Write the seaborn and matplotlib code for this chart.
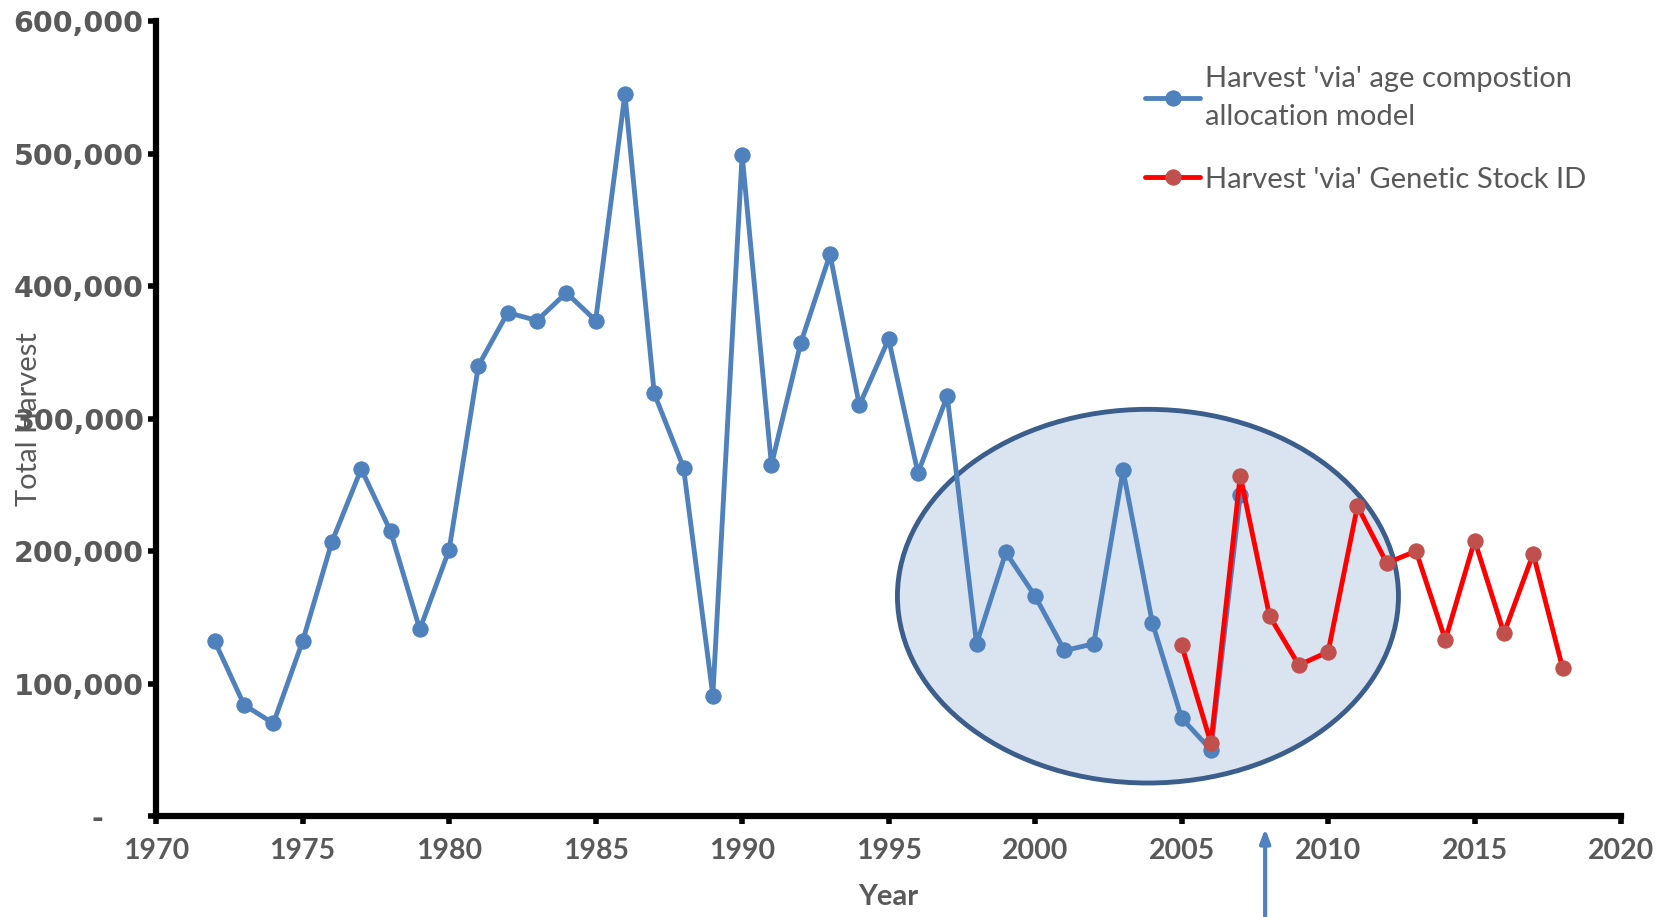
import matplotlib
matplotlib.use("Agg")
import matplotlib.pyplot as plt
from matplotlib.patches import Ellipse
from matplotlib.ticker import FuncFormatter
import pandas as pd
import seaborn as sb

# values
years_acm = list(range(1972, 2008))
harvest_acm = [132000, 84000, 70000, 132000, 207000, 262000, 215000, 141000, 201000, 340000,
               380000, 374000, 395000, 374000, 545000, 319000, 263000, 91000, 499000, 265000,
               357000, 424000, 310000, 360000, 259000, 317000, 130000, 199000, 166000, 125000,
               130000, 261000, 146000, 74000, 50000, 242000]

years_gsi = list(range(2005, 2019))
harvest_gsi = [129000, 55000, 257000, 151000, 114000, 124000, 234000, 191000, 200000, 133000,
               208000, 138000, 198000, 112000]

label_acm = "Harvest 'via' age compostion\nallocation model"
label_gsi = "Harvest 'via' Genetic Stock ID"

x_ticks = list(range(1970, 2021, 5))
y_ticks = list(range(0, 600001, 100000))

df_acm = pd.DataFrame({"Year": years_acm, "Harvest": harvest_acm})
df_gsi = pd.DataFrame({"Year": years_gsi, "Harvest": harvest_gsi})

sb.set_style("white")
plt.rcParams["xtick.bottom"] = True
plt.rcParams["ytick.left"] = True
grey = "#595959"

fig = plt.figure(figsize=(16.61, 9.17), dpi=100)
ax = fig.add_axes([0.094, 0.110, 0.882, 0.867])

# highlighted period
ell = Ellipse((2003.85, 166000), 17.1, 282000, facecolor="#DAE3F0", edgecolor="#3B5E8C",
              linewidth=3.5, zorder=1)
ax.add_patch(ell)

sb.lineplot(data=df_acm, x="Year", y="Harvest", ax=ax, color="#4F81BD", linewidth=3.5,
            marker="o", markersize=11, markeredgecolor="#4F81BD", label=label_acm, zorder=3)
sb.lineplot(data=df_gsi, x="Year", y="Harvest", ax=ax, color="#FF0000", linewidth=3.5,
            marker="o", markersize=11, markerfacecolor="#C0504D", markeredgecolor="#C0504D",
            label=label_gsi, zorder=4)

ax.set_xlim(1970, 2020)
ax.set_ylim(0, 600000)
ax.set_xticks(x_ticks)
ax.set_yticks(y_ticks)
# excel style: zero shown as a dash, set in from the axis
ax.yaxis.set_major_formatter(FuncFormatter(lambda v, p: "-    " if v == 0 else f"{int(v):,}"))

for s in ["top", "right"]:
    ax.spines[s].set_visible(False)
for s in ["left", "bottom"]:
    ax.spines[s].set_linewidth(4.5)
    ax.spines[s].set_color("black")

ax.tick_params(axis="both", which="major", bottom=True, left=True, direction="out",
               length=6, width=4, color="black", labelcolor=grey)
ax.tick_params(axis="y", pad=3)
ax.tick_params(axis="x", pad=10)
for t in ax.get_yticklabels():
    t.set_fontfamily("DejaVu Sans")
    t.set_fontweight("bold")
    t.set_fontsize(20.5)
for t in ax.get_xticklabels():
    t.set_fontfamily("Lato")
    t.set_fontweight("bold")
    t.set_fontsize(20.5)

ax.set_xlabel("Year", fontsize=21, fontweight="bold", color=grey, family="Lato", labelpad=14)
ax.set_ylabel("Total Harvest", fontsize=21, color=grey, family="Lato")
ax.yaxis.set_label_coords(-0.078, 0.5)

leg = ax.legend(loc="upper left", bbox_to_anchor=(0.657, 0.977), frameon=False,
                handlelength=1.9, handletextpad=0.15, labelspacing=1.25,
                prop={"family": "Lato", "size": 21})
for t in leg.get_texts():
    t.set_color(grey)
    t.set_linespacing(1.6)

# arrow under the axis
ax.annotate("", xy=(2007.85, -0.012), xytext=(2007.85, -0.135),
            xycoords=("data", "axes fraction"), textcoords=("data", "axes fraction"),
            arrowprops=dict(arrowstyle="-|>,head_width=0.3,head_length=0.8",
                            color="#4F81BD", linewidth=3), annotation_clip=False)

plt.savefig("out.png", dpi=100)
